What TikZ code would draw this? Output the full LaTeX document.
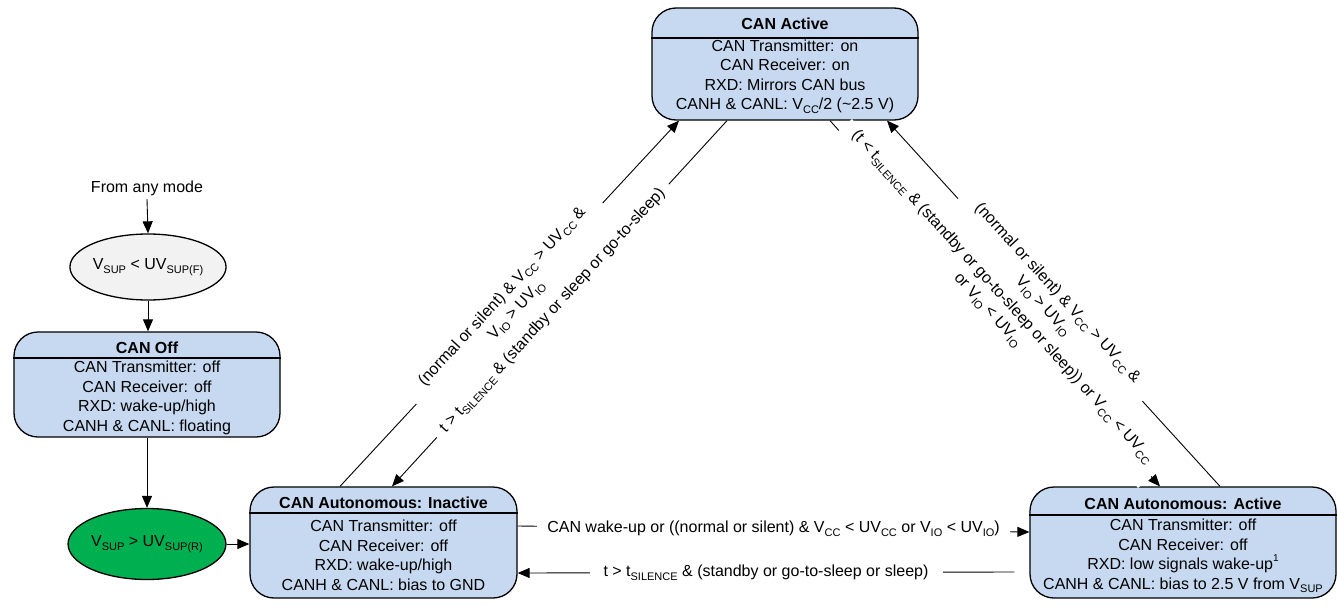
\documentclass[tikz,border=0pt]{standalone}
\usepackage{fontspec}
\setmainfont{Liberation Sans}
\usetikzlibrary{arrows.meta,shapes.geometric,calc}
\definecolor{boxblue}{HTML}{C6D9F0}
\definecolor{okgreen}{HTML}{00B050}
\definecolor{ellgray}{HTML}{F2F2F2}
\newcommand{\dsub}[1]{\raisebox{-0.22em}{\fontsize{11}{11}\selectfont #1}}
\newcommand{\dsup}[1]{\raisebox{0.5em}{\fontsize{10}{10}\selectfont #1}}
\begin{document}
\begin{tikzpicture}[x=1pt,y=-1pt, font=\fontsize{16}{19.5}\selectfont,
  state/.style={draw, line width=1.3pt, fill=boxblue, rounded corners=24pt, inner sep=0pt},
  sep/.style={line width=1.3pt},
  ttl/.style={font=\fontsize{16}{19.5}\selectfont\bfseries, inner sep=0pt},
  body/.style={align=center, inner sep=0pt},
  ell/.style={ellipse, draw, line width=1.3pt, inner sep=0pt},
  arr/.style={-{Triangle[length=12pt,width=10pt]}, line width=0.9pt},
  lbl/.style={fill=white, inner ysep=0pt, inner xsep=9pt, align=center}
]
\useasboundingbox (0,0) rectangle (1338,605);

% states
\node[state, minimum width=266pt, minimum height=112pt] (act) at (785,64) {};
\draw[sep] (act.west |- 0,38) -- (act.east |- 0,38);
\node[ttl] (actT) at (785,24) {CAN Active};
\node[body] (actB) at (785,76.5) {CAN Transmitter: on\\CAN Receiver: on\\RXD: Mirrors CAN bus\\CANH \& CANL: V\dsub{CC}/2 (\textasciitilde 2.5 V)};

\node[state, minimum width=266pt, minimum height=105pt] (off) at (147,384.5) {};
\draw[sep] (off.west |- 0,358) -- (off.east |- 0,358);
\node[ttl] (offT) at (147,348) {CAN Off};
\node[body] (offB) at (147,398) {CAN Transmitter: off\\CAN Receiver: off\\RXD: wake-up/high\\CANH \& CANL: floating};

\node[state, minimum width=267pt, minimum height=111pt] (inact) at (383.5,542.5) {};
\draw[sep] (inact.west |- 0,513) -- (inact.east |- 0,513);
\node[ttl] (inactT) at (383.5,503) {CAN Autonomous: Inactive};
\node[body] (inactB) at (383.5,555.5) {CAN Transmitter: off\\CAN Receiver: off\\RXD: wake-up/high\\CANH \& CANL: bias to GND};

\node[state, minimum width=306pt, minimum height=111pt] (aact) at (1183,542.5) {};
\draw[sep] (aact.west |- 0,515) -- (aact.east |- 0,515);
\node[ttl] (aactT) at (1183,504) {CAN Autonomous: Active};
\node[body] (aactB) at (1183,556) {CAN Transmitter: off\\CAN Receiver: off\\RXD: low signals wake-up\dsup{1}\\CANH \& CANL: bias to 2.5 V from V\dsub{SUP}};

% left column
\node (from) at (147,188) {From any mode};
\node[ell, fill=ellgray, minimum width=156pt, minimum height=66pt] (e1) at (148,267) {V\dsub{SUP} < UV\dsub{SUP(F)}};
\node[ell, fill=okgreen, minimum width=152pt, minimum height=71pt] (e2) at (147,544) {V\dsub{SUP} > UV\dsub{SUP(R)}};

\draw[arr] (from.south) -- (e1.north);
\draw[arr] (e1.south) -- (off.north -| e1.south);
\draw[arr] (off.south -| e2.north) -- (e2.north);
\draw[arr] (e2.east) -- (e2.east -| inact.west);

% diagonals left
\draw[arr] (inact.north -| 340,0) -- node[lbl, sloped, pos=0.5, inner xsep=18pt] (l1) {(normal or silent) \& V\dsub{CC} > UV\dsub{CC} \&\\V\dsub{IO} > UV\dsub{IO}} (act.south -| 679,0);
\draw[arr] (act.south -| 727,0) -- node[lbl, sloped, pos=0.52] (l2) {t > t\dsub{SILENCE} \& (standby or sleep or go-to-sleep)} (inact.north -| 392,0);

% diagonals right
\draw[arr] (aact.north -| 1220,0) -- node[lbl, sloped, pos=0.51, inner xsep=18pt] (l3) {(normal or silent) \& V\dsub{CC} > UV\dsub{CC} \&\\V\dsub{IO} > UV\dsub{IO}} (act.south -| 887,0);
\draw[arr] (act.south -| 830,0) -- node[lbl, sloped, pos=0.5, inner xsep=12pt] (l4) {(t < t\dsub{SILENCE} \& (standby or go-to-sleep or sleep)) or V\dsub{CC} < UV\dsub{CC}\\or V\dsub{IO} < UV\dsub{IO}} (aact.north -| 1160,0);

% horizontals
\draw[arr] ([yshift=16.5pt]inact.east) -- node[lbl, inner xsep=10pt] (l5) {CAN wake-up or ((normal or silent) \& V\dsub{CC} < UV\dsub{CC} or V\dsub{IO} < UV\dsub{IO})} ([yshift=10.5pt]aact.west);
\draw[arr] ([xshift=-15pt,yshift=-29.5pt]aact.west) -- node[lbl, inner xsep=14pt] (l6) {t > t\dsub{SILENCE} \& (standby or go-to-sleep or sleep)} ([yshift=-30.5pt]inact.east);
\end{tikzpicture}
\end{document}
